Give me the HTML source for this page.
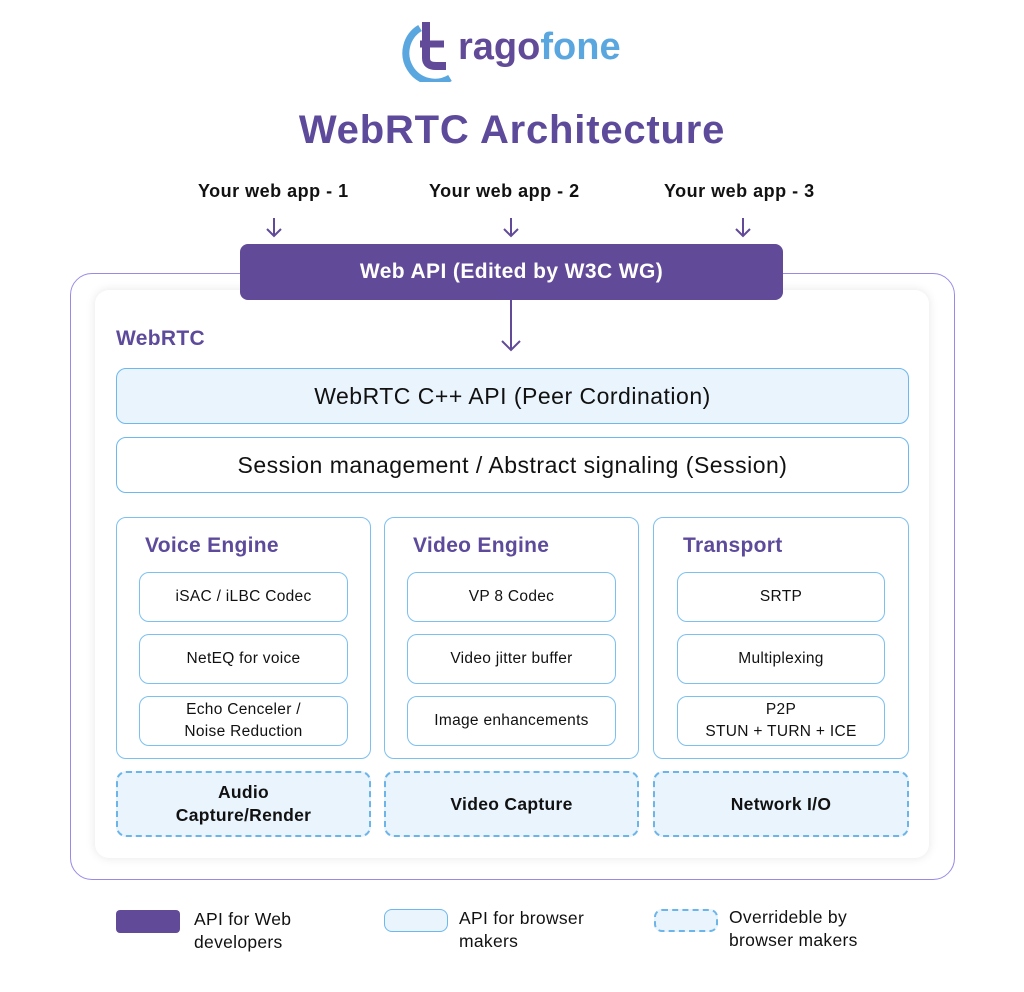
<!DOCTYPE html>
<html><head><style>
body{margin:0;width:1024px;height:992px;background:#fff;position:relative;font-family:"Liberation Sans",sans-serif;overflow:hidden}
.a{position:absolute;box-sizing:border-box}
.c{display:flex;align-items:center;justify-content:center;text-align:center}
.sub{border:1px solid #7cc0f0;border-radius:10px;background:#fff;font-size:15.5px;color:#111;line-height:1.4;letter-spacing:0.3px}
.col{border:1px solid #7cc0f0;border-radius:10px;background:#fff}
.h{color:#5e4a9b;font-weight:bold;font-size:21px;letter-spacing:0.3px}
.d{border:2px dashed #6cb5ea;border-radius:10px;background:#e9f4fd;font-weight:bold;font-size:17.5px;color:#111;line-height:1.3;letter-spacing:0.3px}
.app{font-weight:bold;font-size:18px;color:#111;letter-spacing:0.5px}
.lg{font-size:17.5px;color:#111;line-height:1.3;letter-spacing:0.3px}
</style></head><body>
<svg class="a" style="left:400px;top:18px" width="60" height="64" viewBox="0 0 60 64">
<path d="M20 10 A26 26 0 0 0 50 60" fill="none" stroke="#5aa7df" stroke-width="7"/>
<path d="M26 4 V40 Q26 48 36 48 H46" fill="none" stroke="#614a97" stroke-width="8"/>
<path d="M20 26 H44" stroke="#614a97" stroke-width="7"/>
</svg>
<div class="a" style="left:458px;top:26px;font-size:38px;font-weight:bold;letter-spacing:0px"><span style="color:#614a97">rago</span><span style="color:#5aa7df">fone</span></div>
<div class="a c" style="left:0;top:104px;width:1024px;height:52px;font-size:40px;font-weight:bold;color:#5e4a9b;letter-spacing:0.8px">WebRTC Architecture</div>
<div class="a app" style="left:198px;top:181px">Your web app - 1</div>
<div class="a app" style="left:429px;top:181px">Your web app - 2</div>
<div class="a app" style="left:664px;top:181px">Your web app - 3</div>
<svg class="a" style="left:0;top:0" width="1024" height="992">
<g stroke="#614a97" stroke-width="2" fill="none">
<path d="M274 218V236M267 229L274 236L281 229"/>
<path d="M511 218V236M504 229L511 236L518 229"/>
<path d="M743 218V236M736 229L743 236L750 229"/>
</g></svg>
<div class="a" style="left:70px;top:273px;width:885px;height:607px;border:1.5px solid #9a8ae6;border-radius:22px"></div>
<div class="a" style="left:95px;top:290px;width:834px;height:568px;background:#fff;border-radius:14px;box-shadow:0 0 10px rgba(0,0,0,0.1)"></div>
<div class="a c" style="left:240px;top:244px;width:543px;height:56px;background:#614a97;border-radius:8px;color:#fff;font-size:21px;font-weight:bold;letter-spacing:0.4px">Web API (Edited by W3C WG)</div>
<svg class="a" style="left:0;top:0" width="1024" height="992"><g stroke="#614a97" stroke-width="2" fill="none"><path d="M511 300V350M502 341L511 350L520 341"/></g></svg>
<div class="a h" style="left:116px;top:327px">WebRTC</div>
<div class="a c" style="left:116px;top:368px;width:793px;height:56px;background:#e9f4fd;border:1px solid #6cb8ef;border-radius:10px;font-size:23px;color:#111;letter-spacing:0.5px">WebRTC C++ API (Peer Cordination)</div>
<div class="a c" style="left:116px;top:437px;width:793px;height:56px;background:#fff;border:1px solid #6cb8ef;border-radius:10px;font-size:23px;color:#111;letter-spacing:0.5px">Session management / Abstract signaling (Session)</div>

<div class="a col" style="left:116px;top:517px;width:255px;height:242px"></div>
<div class="a col" style="left:384px;top:517px;width:255px;height:242px"></div>
<div class="a col" style="left:653px;top:517px;width:256px;height:242px"></div>
<div class="a h" style="left:145px;top:534px">Voice Engine</div>
<div class="a h" style="left:413px;top:534px">Video Engine</div>
<div class="a h" style="left:683px;top:534px">Transport</div>

<div class="a c sub" style="left:139px;top:572px;width:209px;height:50px">iSAC / iLBC Codec</div>
<div class="a c sub" style="left:139px;top:634px;width:209px;height:50px">NetEQ for voice</div>
<div class="a c sub" style="left:139px;top:696px;width:209px;height:50px">Echo Cenceler /<br>Noise Reduction</div>
<div class="a c sub" style="left:407px;top:572px;width:209px;height:50px">VP 8 Codec</div>
<div class="a c sub" style="left:407px;top:634px;width:209px;height:50px">Video jitter buffer</div>
<div class="a c sub" style="left:407px;top:696px;width:209px;height:50px">Image enhancements</div>
<div class="a c sub" style="left:677px;top:572px;width:208px;height:50px">SRTP</div>
<div class="a c sub" style="left:677px;top:634px;width:208px;height:50px">Multiplexing</div>
<div class="a c sub" style="left:677px;top:696px;width:208px;height:50px">P2P<br>STUN + TURN + ICE</div>

<div class="a c d" style="left:116px;top:771px;width:255px;height:66px">Audio<br>Capture/Render</div>
<div class="a c d" style="left:384px;top:771px;width:255px;height:66px">Video Capture</div>
<div class="a c d" style="left:653px;top:771px;width:256px;height:66px">Network I/O</div>

<div class="a" style="left:116px;top:910px;width:64px;height:23px;background:#614a97;border-radius:4px"></div>
<div class="a lg" style="left:194px;top:908px">API for Web<br>developers</div>
<div class="a" style="left:384px;top:909px;width:64px;height:23px;background:#e9f4fd;border:1px solid #6cb8ef;border-radius:8px"></div>
<div class="a lg" style="left:459px;top:907px">API for browser<br>makers</div>
<div class="a" style="left:654px;top:909px;width:64px;height:23px;background:#e9f4fd;border:2px dashed #6cb5ea;border-radius:8px"></div>
<div class="a lg" style="left:729px;top:906px">Overrideble by<br>browser makers</div>
</body></html>
